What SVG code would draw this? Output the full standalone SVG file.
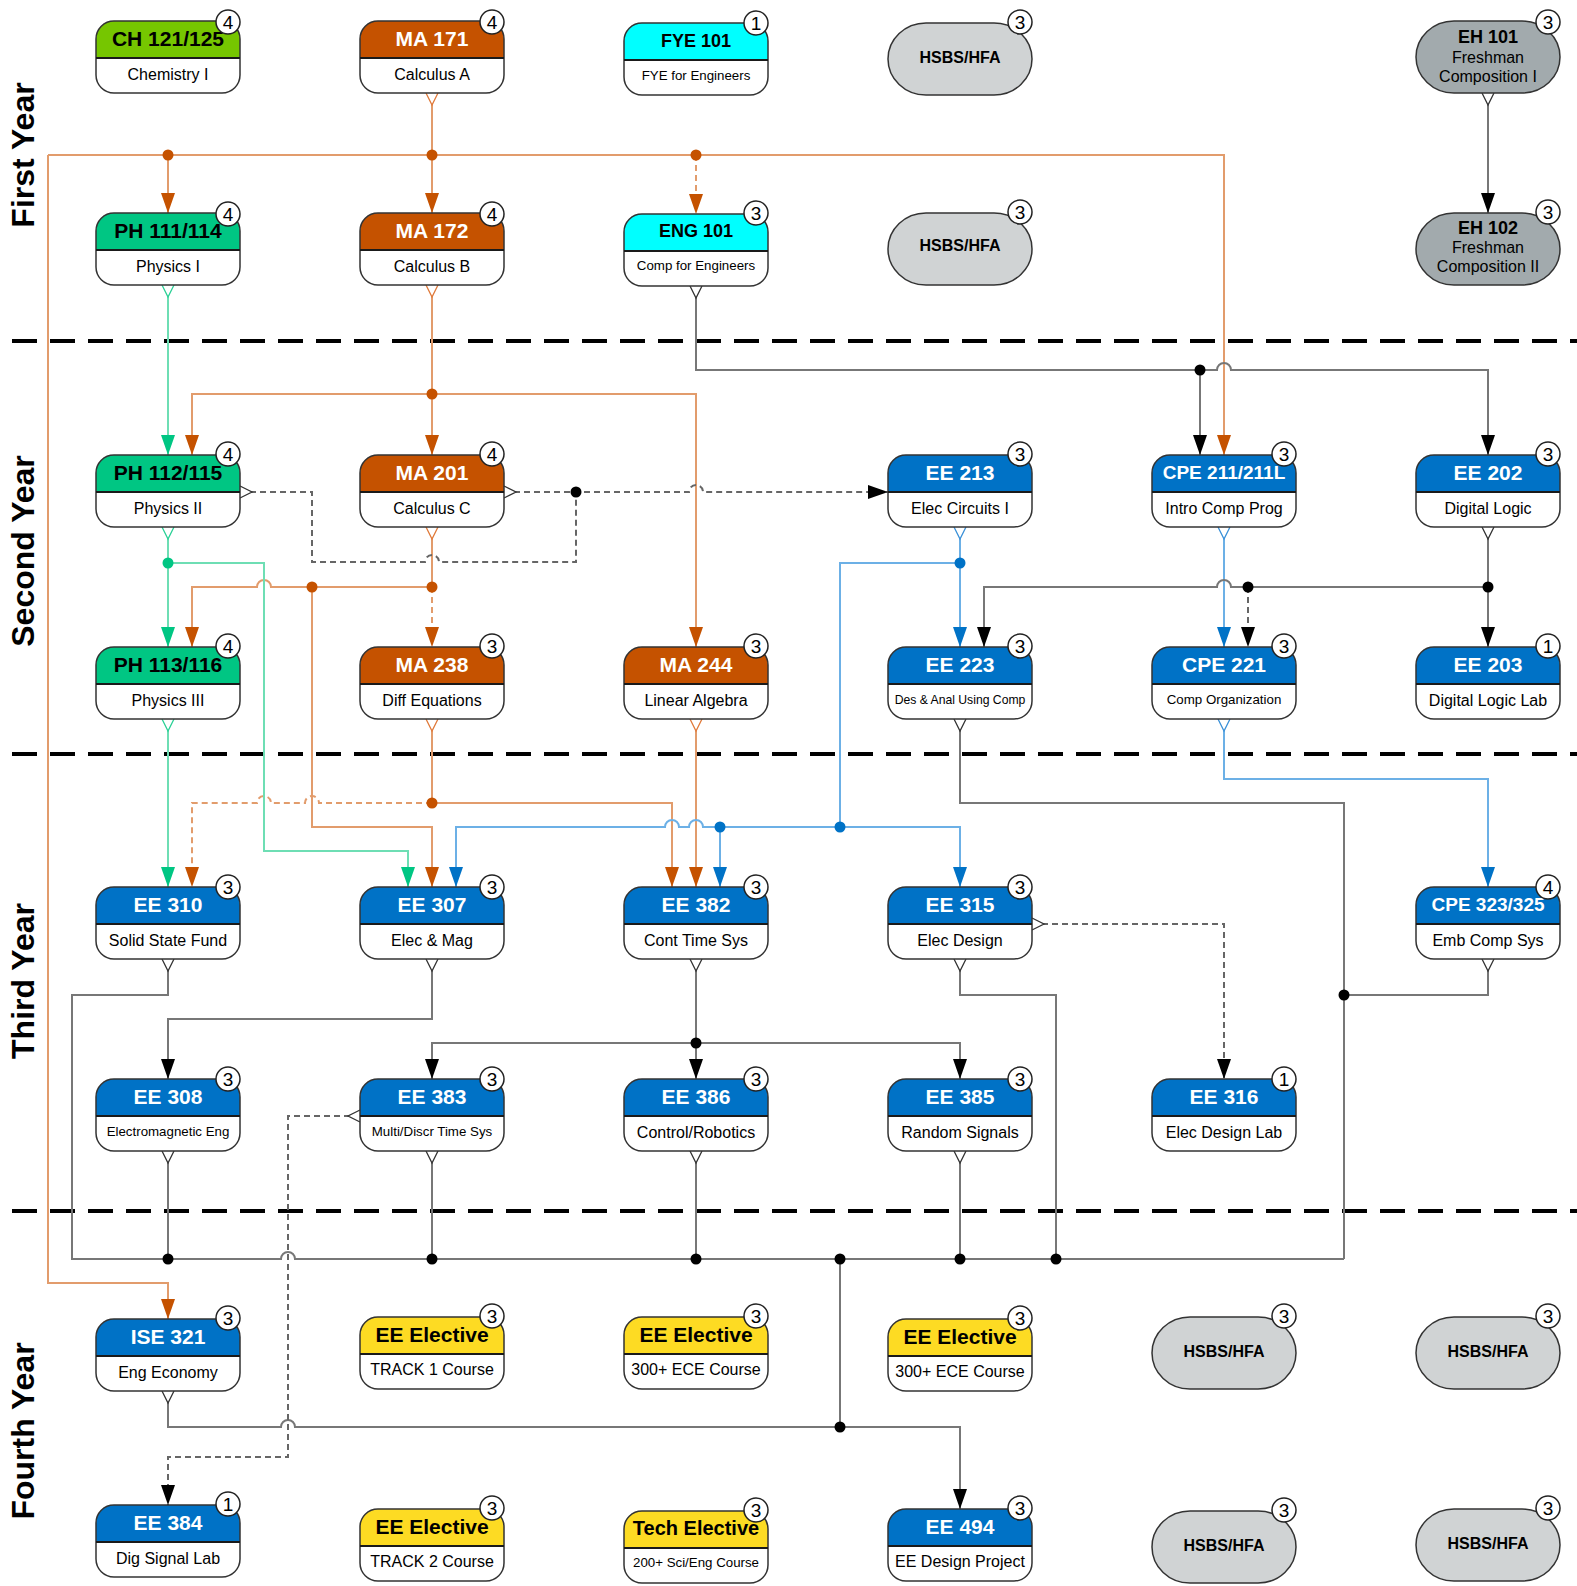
<svg xmlns="http://www.w3.org/2000/svg" width="1577" height="1586" viewBox="0 0 1577 1586">
<style>
text{font-family:"Liberation Sans",Arial,sans-serif;text-anchor:middle}
.yr{font-size:32px;font-weight:bold;fill:#000}
.t{font-size:21px;font-weight:bold;fill:#000}
.t19{font-size:19px}
.t18{font-size:18px}
.w{fill:#fff}
.s{font-size:16px;fill:#000}
.s13{font-size:13.3px}
.s11{font-size:12.2px}
.hs{font-size:16px;font-weight:bold;fill:#000}
.bn{font-size:19px;fill:#000}
.bdg{fill:#fff;stroke:#222;stroke-width:1.5}
.lime{fill:#76c600}.org{fill:#c55200}.cyan{fill:#00ffff}.grn{fill:#00c683}.blu{fill:#0072c6}.yel{fill:#fddb23}
.sep{stroke:#000;stroke-width:4;stroke-dasharray:25 13;fill:none}
.c{fill:none;stroke-width:2}
.co{stroke:#e29c6c}.cg{stroke:#6edeb4}.cb{stroke:#6cb0e6}.ck{stroke:#777}
.d{stroke-dasharray:6 4}
.dk{stroke:#666}
</style>
<defs>
<rect id="cardBody" width="144" height="72" rx="18" fill="#fff"/>
<path id="cardHdr" d="M0,37V18A18,18 0 0 1 18,0H126A18,18 0 0 1 144,18V37Z"/>
<g id="cardFrame"><rect width="144" height="72" rx="18" fill="none" stroke="#333" stroke-width="1.5"/><line x1="0" y1="37" x2="144" y2="37" stroke="#1a1a1a" stroke-width="2"/></g>
<rect id="pill" width="144" height="72" rx="38" ry="36" stroke="#333" stroke-width="1.5"/>
<marker id="aO" markerUnits="userSpaceOnUse" viewBox="0 0 20 14" markerWidth="20" markerHeight="14" refX="20" refY="7" orient="auto"><path d="M0,0L20,7L0,14Z" fill="#c55200"/></marker>
<marker id="aG" markerUnits="userSpaceOnUse" viewBox="0 0 20 14" markerWidth="20" markerHeight="14" refX="20" refY="7" orient="auto"><path d="M0,0L20,7L0,14Z" fill="#00c683"/></marker>
<marker id="aB" markerUnits="userSpaceOnUse" viewBox="0 0 20 14" markerWidth="20" markerHeight="14" refX="20" refY="7" orient="auto"><path d="M0,0L20,7L0,14Z" fill="#0072c6"/></marker>
<marker id="aK" markerUnits="userSpaceOnUse" viewBox="0 0 20 14" markerWidth="20" markerHeight="14" refX="20" refY="7" orient="auto"><path d="M0,0L20,7L0,14Z" fill="#000"/></marker>
<marker id="sO" markerUnits="userSpaceOnUse" viewBox="-1 -8 15 16" markerWidth="15" markerHeight="16" refX="0" refY="0" orient="auto"><path d="M0,-6L12,0L0,6" fill="#fff" stroke="#e07a3a" stroke-width="1.3"/></marker>
<marker id="sG" markerUnits="userSpaceOnUse" viewBox="-1 -8 15 16" markerWidth="15" markerHeight="16" refX="0" refY="0" orient="auto"><path d="M0,-6L12,0L0,6" fill="#fff" stroke="#2bd096" stroke-width="1.3"/></marker>
<marker id="sB" markerUnits="userSpaceOnUse" viewBox="-1 -8 15 16" markerWidth="15" markerHeight="16" refX="0" refY="0" orient="auto"><path d="M0,-6L12,0L0,6" fill="#fff" stroke="#3a90d8" stroke-width="1.3"/></marker>
<marker id="sK" markerUnits="userSpaceOnUse" viewBox="-1 -8 15 16" markerWidth="15" markerHeight="16" refX="0" refY="0" orient="auto"><path d="M0,-6L12,0L0,6" fill="#fff" stroke="#333" stroke-width="1.3"/></marker>
</defs>
<rect width="1577" height="1586" fill="#fff"/>

<g id="year-labels">
<text class="yr" transform="translate(34,155) rotate(-90)">First Year</text>
<text class="yr" transform="translate(34,551) rotate(-90)">Second Year</text>
<text class="yr" transform="translate(34,981) rotate(-90)">Third Year</text>
<text class="yr" transform="translate(34,1431) rotate(-90)">Fourth Year</text>
</g>

<g id="separators">
<line class="sep" x1="12" y1="341" x2="1577" y2="341"/>
<line class="sep" x1="12" y1="754" x2="1577" y2="754"/>
<line class="sep" x1="12" y1="1211" x2="1577" y2="1211"/>
</g>

<g id="connectors">
<path class="c co" d="M432,93V213" marker-start="url(#sO)" marker-end="url(#aO)"/>
<path class="c co" d="M48,155H1224V455" marker-end="url(#aO)"/>
<path class="c co" d="M48,155V1283H168V1319" marker-end="url(#aO)"/>
<path class="c co" d="M168,155V213" marker-end="url(#aO)"/>
<path class="c co d" d="M696,155V214" marker-end="url(#aO)"/>
<path class="c co" d="M432,285V455" marker-start="url(#sO)" marker-end="url(#aO)"/>
<path class="c co" d="M432,394H192V455" marker-end="url(#aO)"/>
<path class="c co" d="M432,394H696V647" marker-end="url(#aO)"/>
<path class="c co" d="M432,527V587H271A7,7 0 0 0 257,587H192V647" marker-start="url(#sO)" marker-end="url(#aO)"/>
<path class="c co d" d="M432,587V647" marker-end="url(#aO)"/>
<path class="c co" d="M312,587V827H432V887" marker-end="url(#aO)"/>
<path class="c co" d="M432,719V803H672V887" marker-start="url(#sO)" marker-end="url(#aO)"/>
<path class="c co d" d="M432,803H319A7,7 0 0 0 305,803H271A7,7 0 0 0 257,803H192V887" marker-end="url(#aO)"/>
<path class="c co" d="M696,719V887" marker-start="url(#sO)" marker-end="url(#aO)"/>
<path class="c cg" d="M168,285V455" marker-start="url(#sG)" marker-end="url(#aG)"/>
<path class="c cg" d="M168,527V647" marker-start="url(#sG)" marker-end="url(#aG)"/>
<path class="c cg" d="M168,563H264V851H408V887" marker-end="url(#aG)"/>
<path class="c cg" d="M168,719V887" marker-start="url(#sG)" marker-end="url(#aG)"/>
<path class="c cb" d="M960,527V647" marker-start="url(#sB)" marker-end="url(#aB)"/>
<path class="c cb" d="M960,563H840V827"/>
<path class="c cb" d="M840,827H703A7,7 0 0 0 689,827H679A7,7 0 0 0 665,827H456V887" marker-end="url(#aB)"/>
<path class="c cb" d="M840,827H960V887" marker-end="url(#aB)"/>
<path class="c cb" d="M720,827V887" marker-end="url(#aB)"/>
<path class="c cb" d="M1224,527V647" marker-start="url(#sB)" marker-end="url(#aB)"/>
<path class="c cb" d="M1224,719V779H1488V887" marker-start="url(#sB)" marker-end="url(#aB)"/>
<path class="c ck" d="M1488,93V213" marker-start="url(#sK)" marker-end="url(#aK)"/>
<path class="c ck" d="M696,286V370H1217A7,7 0 0 1 1231,370H1488V455" marker-start="url(#sK)" marker-end="url(#aK)"/>
<path class="c ck" d="M1200,370V455" marker-end="url(#aK)"/>
<path class="c ck" d="M1488,527V647" marker-start="url(#sK)" marker-end="url(#aK)"/>
<path class="c ck" d="M1488,587H1231A7,7 0 0 0 1217,587H984V647" marker-end="url(#aK)"/>
<path class="c dk d" d="M1248,587V647" marker-end="url(#aK)"/>
<path class="c dk d" d="M240,492H312V562H425A7,7 0 0 1 439,562H576V492" marker-start="url(#sK)"/>
<path class="c dk d" d="M504,492H689A7,7 0 0 1 703,492H888" marker-start="url(#sK)" marker-end="url(#aK)"/>
<path class="c ck" d="M960,719V803H1344V1259" marker-start="url(#sK)"/>
<path class="c ck" d="M1488,959V995H1344" marker-start="url(#sK)"/>
<path class="c ck" d="M168,959V995H72V1259H281A7,7 0 0 1 295,1259H1344" marker-start="url(#sK)"/>
<path class="c ck" d="M432,959V1019H168V1079" marker-start="url(#sK)" marker-end="url(#aK)"/>
<path class="c ck" d="M696,959V1079" marker-start="url(#sK)" marker-end="url(#aK)"/>
<path class="c ck" d="M696,1043H432V1079" marker-end="url(#aK)"/>
<path class="c ck" d="M696,1043H960V1079" marker-end="url(#aK)"/>
<path class="c ck" d="M960,959V995H1056V1259" marker-start="url(#sK)"/>
<path class="c dk d" d="M1032,924H1224V1079" marker-start="url(#sK)" marker-end="url(#aK)"/>
<path class="c ck" d="M168,1151V1259" marker-start="url(#sK)"/>
<path class="c ck" d="M432,1151V1259" marker-start="url(#sK)"/>
<path class="c ck" d="M696,1151V1259" marker-start="url(#sK)"/>
<path class="c ck" d="M960,1151V1259" marker-start="url(#sK)"/>
<path class="c ck" d="M840,1259V1427H960V1509" marker-end="url(#aK)"/>
<path class="c ck" d="M168,1391V1427H281A7,7 0 0 1 295,1427H840" marker-start="url(#sK)"/>
<path class="c dk d" d="M360,1116H288V1457H168V1505" marker-start="url(#sK)" marker-end="url(#aK)"/>
<g fill="#c55200">
<circle cx="168" cy="155" r="5.5"/><circle cx="432" cy="155" r="5.5"/><circle cx="696" cy="155" r="5.5"/>
<circle cx="432" cy="394" r="5.5"/><circle cx="432" cy="587" r="5.5"/><circle cx="312" cy="587" r="5.5"/><circle cx="432" cy="803" r="5.5"/>
</g>
<g fill="#00c683"><circle cx="168" cy="563" r="5.5"/></g>
<g fill="#0072c6"><circle cx="960" cy="563" r="5.5"/><circle cx="840" cy="827" r="5.5"/><circle cx="720" cy="827" r="5.5"/></g>
<g fill="#000">
<circle cx="1200" cy="370" r="5.5"/><circle cx="576" cy="492" r="5.5"/><circle cx="1248" cy="587" r="5.5"/><circle cx="1488" cy="587" r="5.5"/>
<circle cx="696" cy="1043" r="5.5"/><circle cx="1344" cy="995" r="5.5"/>
<circle cx="168" cy="1259" r="5.5"/><circle cx="432" cy="1259" r="5.5"/><circle cx="696" cy="1259" r="5.5"/><circle cx="840" cy="1259" r="5.5"/>
<circle cx="960" cy="1259" r="5.5"/><circle cx="1056" cy="1259" r="5.5"/><circle cx="840" cy="1427" r="5.5"/>
</g>
</g>

<g id="ch121" transform="translate(96,21)"><use href="#cardBody"/><use href="#cardHdr" class="lime"/><use href="#cardFrame"/><text class="t" x="72" y="25">CH 121/125</text><text class="s" x="72" y="59">Chemistry I</text><circle class="bdg" cx="132" cy="1" r="12"/><text class="bn" x="132" y="8">4</text></g>
<g id="ma171" transform="translate(360,21)"><use href="#cardBody"/><use href="#cardHdr" class="org"/><use href="#cardFrame"/><text class="t w" x="72" y="25">MA 171</text><text class="s" x="72" y="59">Calculus A</text><circle class="bdg" cx="132" cy="1" r="12"/><text class="bn" x="132" y="8">4</text></g>
<g id="fye101" transform="translate(624,23)"><use href="#cardBody"/><use href="#cardHdr" class="cyan"/><use href="#cardFrame"/><text class="t t18" x="72" y="24">FYE 101</text><text class="s s13" x="72" y="57">FYE for Engineers</text><circle class="bdg" cx="132" cy="0" r="12"/><text class="bn" x="132" y="7">1</text></g>
<g id="hsbs1a" transform="translate(888,23)"><use href="#pill" fill="#d0d3d4"/><text class="hs" x="72" y="40">HSBS/HFA</text><circle class="bdg" cx="132" cy="-1" r="12"/><text class="bn" x="132" y="6">3</text></g>
<g id="eh101" transform="translate(1416,21)"><use href="#pill" fill="#a2aaad"/><text class="t t18" x="72" y="22">EH 101</text><text class="s" x="72" y="42">Freshman</text><text class="s" x="72" y="61">Composition I</text><circle class="bdg" cx="132" cy="1" r="12"/><text class="bn" x="132" y="8">3</text></g>

<g id="ph111" transform="translate(96,213)"><use href="#cardBody"/><use href="#cardHdr" class="grn"/><use href="#cardFrame"/><text class="t" x="72" y="25">PH 111/114</text><text class="s" x="72" y="59">Physics I</text><circle class="bdg" cx="132" cy="1" r="12"/><text class="bn" x="132" y="8">4</text></g>
<g id="ma172" transform="translate(360,213)"><use href="#cardBody"/><use href="#cardHdr" class="org"/><use href="#cardFrame"/><text class="t w" x="72" y="25">MA 172</text><text class="s" x="72" y="59">Calculus B</text><circle class="bdg" cx="132" cy="1" r="12"/><text class="bn" x="132" y="8">4</text></g>
<g id="eng101" transform="translate(624,214)"><use href="#cardBody"/><use href="#cardHdr" class="cyan"/><use href="#cardFrame"/><text class="t t18" x="72" y="23">ENG 101</text><text class="s s13" x="72" y="56">Comp for Engineers</text><circle class="bdg" cx="132" cy="-1" r="12"/><text class="bn" x="132" y="6">3</text></g>
<g id="hsbs1b" transform="translate(888,213)"><use href="#pill" fill="#d0d3d4"/><text class="hs" x="72" y="38">HSBS/HFA</text><circle class="bdg" cx="132" cy="-1" r="12"/><text class="bn" x="132" y="6">3</text></g>
<g id="eh102" transform="translate(1416,213)"><use href="#pill" fill="#a2aaad"/><text class="t t18" x="72" y="21">EH 102</text><text class="s" x="72" y="40">Freshman</text><text class="s" x="72" y="59">Composition II</text><circle class="bdg" cx="132" cy="-1" r="12"/><text class="bn" x="132" y="6">3</text></g>

<g id="ph112" transform="translate(96,455)"><use href="#cardBody"/><use href="#cardHdr" class="grn"/><use href="#cardFrame"/><text class="t" x="72" y="25">PH 112/115</text><text class="s" x="72" y="59">Physics II</text><circle class="bdg" cx="132" cy="-1" r="12"/><text class="bn" x="132" y="6">4</text></g>
<g id="ma201" transform="translate(360,455)"><use href="#cardBody"/><use href="#cardHdr" class="org"/><use href="#cardFrame"/><text class="t w" x="72" y="25">MA 201</text><text class="s" x="72" y="59">Calculus C</text><circle class="bdg" cx="132" cy="-1" r="12"/><text class="bn" x="132" y="6">4</text></g>
<g id="ee213" transform="translate(888,455)"><use href="#cardBody"/><use href="#cardHdr" class="blu"/><use href="#cardFrame"/><text class="t w" x="72" y="25">EE 213</text><text class="s" x="72" y="59">Elec Circuits I</text><circle class="bdg" cx="132" cy="-1" r="12"/><text class="bn" x="132" y="6">3</text></g>
<g id="cpe211" transform="translate(1152,455)"><use href="#cardBody"/><use href="#cardHdr" class="blu"/><use href="#cardFrame"/><text class="t t19 w" x="72" y="24">CPE 211/211L</text><text class="s" x="72" y="59">Intro Comp Prog</text><circle class="bdg" cx="132" cy="-1" r="12"/><text class="bn" x="132" y="6">3</text></g>
<g id="ee202" transform="translate(1416,455)"><use href="#cardBody"/><use href="#cardHdr" class="blu"/><use href="#cardFrame"/><text class="t w" x="72" y="25">EE 202</text><text class="s" x="72" y="59">Digital Logic</text><circle class="bdg" cx="132" cy="-1" r="12"/><text class="bn" x="132" y="6">3</text></g>

<g id="ph113" transform="translate(96,647)"><use href="#cardBody"/><use href="#cardHdr" class="grn"/><use href="#cardFrame"/><text class="t" x="72" y="25">PH 113/116</text><text class="s" x="72" y="59">Physics III</text><circle class="bdg" cx="132" cy="-1" r="12"/><text class="bn" x="132" y="6">4</text></g>
<g id="ma238" transform="translate(360,647)"><use href="#cardBody"/><use href="#cardHdr" class="org"/><use href="#cardFrame"/><text class="t w" x="72" y="25">MA 238</text><text class="s" x="72" y="59">Diff Equations</text><circle class="bdg" cx="132" cy="-1" r="12"/><text class="bn" x="132" y="6">3</text></g>
<g id="ma244" transform="translate(624,647)"><use href="#cardBody"/><use href="#cardHdr" class="org"/><use href="#cardFrame"/><text class="t w" x="72" y="25">MA 244</text><text class="s" x="72" y="59">Linear Algebra</text><circle class="bdg" cx="132" cy="-1" r="12"/><text class="bn" x="132" y="6">3</text></g>
<g id="ee223" transform="translate(888,647)"><use href="#cardBody"/><use href="#cardHdr" class="blu"/><use href="#cardFrame"/><text class="t w" x="72" y="25">EE 223</text><text class="s s11" x="72" y="57">Des &amp; Anal Using Comp</text><circle class="bdg" cx="132" cy="-1" r="12"/><text class="bn" x="132" y="6">3</text></g>
<g id="cpe221" transform="translate(1152,647)"><use href="#cardBody"/><use href="#cardHdr" class="blu"/><use href="#cardFrame"/><text class="t w" x="72" y="25">CPE 221</text><text class="s s13" x="72" y="57">Comp Organization</text><circle class="bdg" cx="132" cy="-1" r="12"/><text class="bn" x="132" y="6">3</text></g>
<g id="ee203" transform="translate(1416,647)"><use href="#cardBody"/><use href="#cardHdr" class="blu"/><use href="#cardFrame"/><text class="t w" x="72" y="25">EE 203</text><text class="s" x="72" y="59">Digital Logic Lab</text><circle class="bdg" cx="132" cy="-1" r="12"/><text class="bn" x="132" y="6">1</text></g>

<g id="ee310" transform="translate(96,887)"><use href="#cardBody"/><use href="#cardHdr" class="blu"/><use href="#cardFrame"/><text class="t w" x="72" y="25">EE 310</text><text class="s" x="72" y="59">Solid State Fund</text><circle class="bdg" cx="132" cy="0" r="12"/><text class="bn" x="132" y="7">3</text></g>
<g id="ee307" transform="translate(360,887)"><use href="#cardBody"/><use href="#cardHdr" class="blu"/><use href="#cardFrame"/><text class="t w" x="72" y="25">EE 307</text><text class="s" x="72" y="59">Elec &amp; Mag</text><circle class="bdg" cx="132" cy="0" r="12"/><text class="bn" x="132" y="7">3</text></g>
<g id="ee382" transform="translate(624,887)"><use href="#cardBody"/><use href="#cardHdr" class="blu"/><use href="#cardFrame"/><text class="t w" x="72" y="25">EE 382</text><text class="s" x="72" y="59">Cont Time Sys</text><circle class="bdg" cx="132" cy="0" r="12"/><text class="bn" x="132" y="7">3</text></g>
<g id="ee315" transform="translate(888,887)"><use href="#cardBody"/><use href="#cardHdr" class="blu"/><use href="#cardFrame"/><text class="t w" x="72" y="25">EE 315</text><text class="s" x="72" y="59">Elec Design</text><circle class="bdg" cx="132" cy="0" r="12"/><text class="bn" x="132" y="7">3</text></g>
<g id="cpe323" transform="translate(1416,887)"><use href="#cardBody"/><use href="#cardHdr" class="blu"/><use href="#cardFrame"/><text class="t t19 w" x="72" y="24">CPE 323/325</text><text class="s" x="72" y="59">Emb Comp Sys</text><circle class="bdg" cx="132" cy="0" r="12"/><text class="bn" x="132" y="7">4</text></g>

<g id="ee308" transform="translate(96,1079)"><use href="#cardBody"/><use href="#cardHdr" class="blu"/><use href="#cardFrame"/><text class="t w" x="72" y="25">EE 308</text><text class="s s13" x="72" y="57">Electromagnetic Eng</text><circle class="bdg" cx="132" cy="0" r="12"/><text class="bn" x="132" y="7">3</text></g>
<g id="ee383" transform="translate(360,1079)"><use href="#cardBody"/><use href="#cardHdr" class="blu"/><use href="#cardFrame"/><text class="t w" x="72" y="25">EE 383</text><text class="s s13" x="72" y="57">Multi/Discr Time Sys</text><circle class="bdg" cx="132" cy="0" r="12"/><text class="bn" x="132" y="7">3</text></g>
<g id="ee386" transform="translate(624,1079)"><use href="#cardBody"/><use href="#cardHdr" class="blu"/><use href="#cardFrame"/><text class="t w" x="72" y="25">EE 386</text><text class="s" x="72" y="59">Control/Robotics</text><circle class="bdg" cx="132" cy="0" r="12"/><text class="bn" x="132" y="7">3</text></g>
<g id="ee385" transform="translate(888,1079)"><use href="#cardBody"/><use href="#cardHdr" class="blu"/><use href="#cardFrame"/><text class="t w" x="72" y="25">EE 385</text><text class="s" x="72" y="59">Random Signals</text><circle class="bdg" cx="132" cy="0" r="12"/><text class="bn" x="132" y="7">3</text></g>
<g id="ee316" transform="translate(1152,1079)"><use href="#cardBody"/><use href="#cardHdr" class="blu"/><use href="#cardFrame"/><text class="t w" x="72" y="25">EE 316</text><text class="s" x="72" y="59">Elec Design Lab</text><circle class="bdg" cx="132" cy="0" r="12"/><text class="bn" x="132" y="7">1</text></g>

<g id="ise321" transform="translate(96,1319)"><use href="#cardBody"/><use href="#cardHdr" class="blu"/><use href="#cardFrame"/><text class="t w" x="72" y="25">ISE 321</text><text class="s" x="72" y="59">Eng Economy</text><circle class="bdg" cx="132" cy="-1" r="12"/><text class="bn" x="132" y="6">3</text></g>
<g id="eeel1" transform="translate(360,1317)"><use href="#cardBody"/><use href="#cardHdr" class="yel"/><use href="#cardFrame"/><text class="t" x="72" y="25">EE Elective</text><text class="s" x="72" y="58">TRACK 1 Course</text><circle class="bdg" cx="132" cy="-1" r="12"/><text class="bn" x="132" y="6">3</text></g>
<g id="eeel2" transform="translate(624,1317)"><use href="#cardBody"/><use href="#cardHdr" class="yel"/><use href="#cardFrame"/><text class="t" x="72" y="25">EE Elective</text><text class="s" x="72" y="58">300+ ECE Course</text><circle class="bdg" cx="132" cy="-1" r="12"/><text class="bn" x="132" y="6">3</text></g>
<g id="eeel3" transform="translate(888,1319)"><use href="#cardBody"/><use href="#cardHdr" class="yel"/><use href="#cardFrame"/><text class="t" x="72" y="25">EE Elective</text><text class="s" x="72" y="58">300+ ECE Course</text><circle class="bdg" cx="132" cy="-1" r="12"/><text class="bn" x="132" y="6">3</text></g>
<g id="hsbs4a" transform="translate(1152,1317)"><use href="#pill" fill="#d0d3d4"/><text class="hs" x="72" y="40">HSBS/HFA</text><circle class="bdg" cx="132" cy="-1" r="12"/><text class="bn" x="132" y="6">3</text></g>
<g id="hsbs4b" transform="translate(1416,1317)"><use href="#pill" fill="#d0d3d4"/><text class="hs" x="72" y="40">HSBS/HFA</text><circle class="bdg" cx="132" cy="-1" r="12"/><text class="bn" x="132" y="6">3</text></g>

<g id="ee384" transform="translate(96,1505)"><use href="#cardBody"/><use href="#cardHdr" class="blu"/><use href="#cardFrame"/><text class="t w" x="72" y="25">EE 384</text><text class="s" x="72" y="59">Dig Signal Lab</text><circle class="bdg" cx="132" cy="-1" r="12"/><text class="bn" x="132" y="6">1</text></g>
<g id="eeel4" transform="translate(360,1509)"><use href="#cardBody"/><use href="#cardHdr" class="yel"/><use href="#cardFrame"/><text class="t" x="72" y="25">EE Elective</text><text class="s" x="72" y="58">TRACK 2 Course</text><circle class="bdg" cx="132" cy="-1" r="12"/><text class="bn" x="132" y="6">3</text></g>
<g id="techel" transform="translate(624,1511)"><use href="#cardBody"/><use href="#cardHdr" class="yel"/><use href="#cardFrame"/><text class="t" x="72" y="24" style="font-size:20px">Tech Elective</text><text class="s s13" x="72" y="56">200+ Sci/Eng Course</text><circle class="bdg" cx="132" cy="-1" r="12"/><text class="bn" x="132" y="6">3</text></g>
<g id="ee494" transform="translate(888,1509)"><use href="#cardBody"/><use href="#cardHdr" class="blu"/><use href="#cardFrame"/><text class="t w" x="72" y="25">EE 494</text><text class="s" x="72" y="58">EE Design Project</text><circle class="bdg" cx="132" cy="-1" r="12"/><text class="bn" x="132" y="6">3</text></g>
<g id="hsbs4c" transform="translate(1152,1511)"><use href="#pill" fill="#d0d3d4"/><text class="hs" x="72" y="40">HSBS/HFA</text><circle class="bdg" cx="132" cy="-1" r="12"/><text class="bn" x="132" y="6">3</text></g>
<g id="hsbs4d" transform="translate(1416,1509)"><use href="#pill" fill="#d0d3d4"/><text class="hs" x="72" y="40">HSBS/HFA</text><circle class="bdg" cx="132" cy="-1" r="12"/><text class="bn" x="132" y="6">3</text></g>
</svg>
